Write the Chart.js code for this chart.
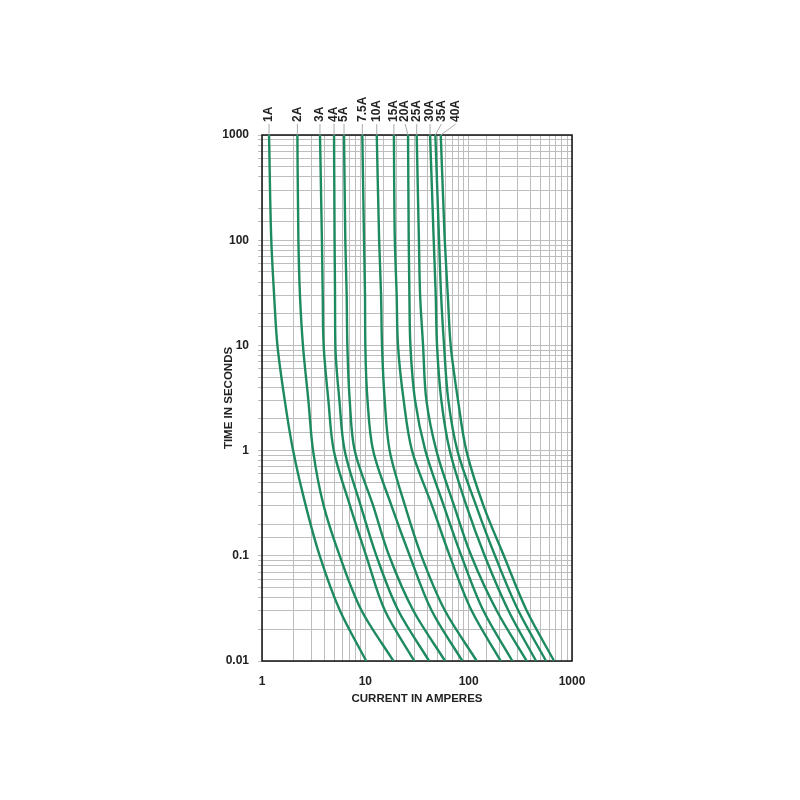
<!DOCTYPE html>
<html>
<head>
<meta charset="utf-8">
<script src="https://cdn.jsdelivr.net/npm/chart.js@4.4.1/dist/chart.umd.min.js"></script>
<style>
  html, body { margin: 0; padding: 0; background: #ffffff; }
  #wrap { width: 800px; height: 800px; }
</style>
</head>
<body>
<div id="wrap"><canvas id="c" width="800" height="800"></canvas></div>
<script>
// Time points (seconds) at which each curve's current was read
const times = [1000, 100, 30, 10, 3, 1, 0.3, 0.1, 0.03, 0.01];

// Curve labels (fuse ratings)
const ratings = ['1A', '2A', '3A', '4A', '5A', '7.5A', '10A', '15A', '20A', '25A', '30A', '35A', '40A'];

// Current in amperes for each rating at the times above
const c1A   = [1.17, 1.23, 1.31, 1.41, 1.66, 2.0, 2.65, 3.62, 5.69, 10.2];
const c2A   = [2.2, 2.25, 2.33, 2.49, 2.81, 3.12, 3.95, 5.65, 9.22, 18.7];
const c3A   = [3.64, 3.8, 3.87, 3.95, 4.39, 4.95, 7.1, 10.2, 15.5, 29.8];
const c4A   = [4.98, 5.04, 5.09, 5.13, 5.61, 6.31, 9.02, 12.8, 20.9, 41.4];
const c5A   = [6.22, 6.4, 6.6, 6.7, 7.06, 7.89, 11.9, 17.0, 29.2, 59.1];
const c7_5A = [9.35, 9.71, 9.93, 10.0, 10.5, 11.9, 17.9, 26.9, 43.9, 86.9];
const c10A  = [12.9, 13.6, 14.2, 14.5, 15.4, 17.2, 24.2, 34.9, 59.1, 119.7];
const c15A  = [18.9, 19.3, 20.1, 20.7, 23.5, 28.3, 44.2, 65.6, 107, 204.5];
const c20A  = [25.9, 26.3, 26.7, 27.3, 30.3, 38.1, 57.4, 85.0, 139, 265];
const c25A  = [31.4, 33.0, 33.9, 36.2, 39.0, 48.7, 72.2, 106, 187, 365];
const c30A  = [42.3, 45.9, 48.0, 49.4, 54.4, 65.6, 95.0, 143, 243, 449];
const c35A  = [47.6, 51.7, 54.1, 57.8, 63.6, 77.8, 118, 180, 303, 561];
const c40A  = [53.7, 58.7, 62.8, 67.0, 78.9, 95.0, 139, 219, 365, 671];

const curves = [c1A, c2A, c3A, c4A, c5A, c7_5A, c10A, c15A, c20A, c25A, c30A, c35A, c40A];

// Axis tick labels (decades)
const xTickLabels = [1, 10, 100, 1000];
const yTickLabels = [0.01, 0.1, 1, 10, 100, 1000];

const GREEN = '#1d8a5f';
const FONT = "'Liberation Sans', Arial, sans-serif";
const TEXT = '#222222';

function isListed(v, list) {
  return list.some(t => Math.abs(Math.log10(v) - Math.log10(t)) < 1e-6);
}

const datasets = curves.map((arr, i) => ({
  label: ratings[i],
  data: arr.map((cur, j) => ({ x: cur, y: times[j] })),
  borderColor: GREEN,
  borderWidth: 2.4,
  pointRadius: 0,
  fill: false,
  cubicInterpolationMode: 'monotone'
}));

// Label offsets (px) for crowded labels at top
const labelShift = { '20A': -3, '35A': 6, '40A': 15 };

const topLabels = {
  id: 'topLabels',
  afterDraw(chart) {
    const ctx = chart.ctx;
    const xs = chart.scales.x;
    const top = chart.chartArea.top;
    ctx.save();
    chart.data.datasets.forEach(ds => {
      const px = xs.getPixelForValue(ds.data[0].x);
      const shift = labelShift[ds.label] || 0;
      const lx = px + shift;
      ctx.strokeStyle = '#aaaaaa';
      ctx.lineWidth = 1;
      ctx.beginPath();
      ctx.moveTo(lx, top - 11);
      ctx.lineTo(px, top);
      ctx.stroke();
      ctx.save();
      ctx.translate(lx, top - 13);
      ctx.rotate(-Math.PI / 2);
      ctx.fillStyle = TEXT;
      ctx.font = "bold 12px " + FONT;
      ctx.textAlign = 'left';
      ctx.textBaseline = 'middle';
      ctx.fillText(ds.label, 0, 0);
      ctx.restore();
    });
    ctx.restore();
  }
};

const frame = {
  id: 'frame',
  beforeDatasetsDraw(chart) {
    const { left, top, right, bottom } = chart.chartArea;
    const ctx = chart.ctx;
    ctx.save();
    ctx.strokeStyle = '#111111';
    ctx.lineWidth = 1.5;
    ctx.strokeRect(left, top, right - left, bottom - top);
    ctx.restore();
  }
};

new Chart(document.getElementById('c'), {
  type: 'line',
  data: { datasets },
  plugins: [frame, topLabels],
  options: {
    indexAxis: 'y',
    responsive: false,
    animation: false,
    layout: { padding: { left: 212, right: 228, top: 135, bottom: 79 } },
    plugins: { legend: { display: false }, tooltip: { enabled: false } },
    scales: {
      x: {
        type: 'logarithmic',
        min: 1, max: 1000,
        afterFit(s) { s.height = 60; },
        grid: { color: '#bdbdbd', lineWidth: 1, drawTicks: false },
        border: { display: false },
        ticks: {
          autoSkip: false, maxRotation: 0, padding: 13,
          color: TEXT,
          font: { family: FONT, size: 12, weight: 'bold' },
          callback: (v) => isListed(v, xTickLabels) ? String(Number(v.toPrecision(1))) : ''
        },
        title: {
          display: true, text: 'CURRENT IN AMPERES', color: TEXT,
          font: { family: FONT, size: 11.5, weight: 'bold' },
          padding: { top: 0, bottom: 15 }
        }
      },
      y: {
        type: 'logarithmic',
        min: 0.01, max: 1000,
        afterFit(s) { s.width = 50; },
        grid: { color: '#bdbdbd', lineWidth: 1, drawTicks: true, tickLength: 4 },
        border: { display: false },
        ticks: {
          autoSkip: false, padding: 9,
          color: TEXT,
          font: { family: FONT, size: 12, weight: 'bold' },
          callback: (v) => isListed(v, yTickLabels) ? String(Number(v.toPrecision(1))) : ''
        },
        title: {
          display: true, text: 'TIME IN SECONDS', color: TEXT,
          font: { family: FONT, size: 11.5, weight: 'bold' },
          padding: { top: 10, bottom: 0 }
        }
      }
    }
  }
});
</script>
</body>
</html>
